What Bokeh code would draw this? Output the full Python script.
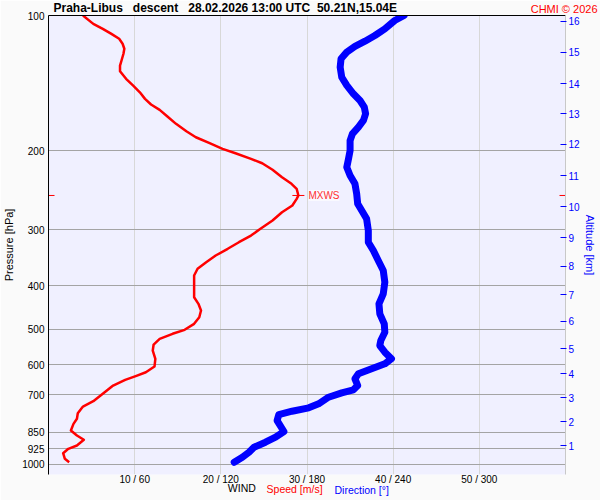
from bokeh.plotting import figure
from bokeh.models import Range1d, LogAxis, LinearAxis, FixedTicker, Label, Title
from bokeh.embed import file_html
from bokeh.resources import INLINE

NB = "\u00a0"
TITLE = f"Praha-Libus{NB}{NB} descent{NB}{NB} 28.02.2026 13:00 UTC{NB} 50.21N,15.04E"
CREDIT = "CHMI \u00a9 2026"
XLABELS = ["WIND", "Speed [m/s]", "Direction [\u00b0]"]

# wind speed profile: pressure [hPa] / speed [m/s]
speed_p = [100, 104.4, 107.1, 109.9, 112.7, 115.6, 118.6, 121.7, 125.5, 129.3, 133.1, 138.4,
           143.2, 148.3, 153.4, 157.9, 162.3, 168.0, 174.4, 181.1, 186.8, 192.6, 198.3, 202.8,
           208.7, 213.5, 220.8, 229.4, 237.3, 243.4, 251.9, 256.3, 265.2, 274.5, 286.5, 298.9,
           309.4, 320.2, 331.2, 342.8, 354.8, 367.0, 379.9, 403.4, 424.7, 439.3, 454.7, 470.6,
           486.8, 502.0, 512.4, 525.8, 541.4, 558.3, 582.6, 606.1, 624.1, 635.7, 648.9, 668.2,
           697.3, 724.3, 744.2, 770.3, 792.7, 813.4, 841.8, 863.7, 882.9, 909.2, 924.7, 945.8,
           973.4, 990.5]
speed_ms = [4.0, 5.2, 6.3, 7.3, 8.2, 8.6, 8.8, 8.7, 8.5, 8.3, 8.3, 9.0,
            9.8, 10.6, 11.2, 11.9, 12.9, 13.8, 14.8, 16.0, 17.1, 18.7, 20.2, 21.7,
            23.5, 24.8, 26.0, 27.1, 28.2, 28.8, 29.0, 28.8, 28.3, 27.1, 26.0, 24.6,
            23.5, 22.1, 20.8, 19.4, 18.3, 17.3, 16.9, 16.9, 16.9, 17.4, 17.7, 17.5,
            16.9, 15.8, 14.4, 12.9, 12.2, 12.1, 12.4, 12.3, 11.3, 10.2, 8.9, 7.5,
            6.3, 5.2, 4.0, 3.4, 3.3, 2.9, 2.6, 3.3, 4.1, 3.3, 2.3, 1.7,
            1.9, 2.4]

# wind direction profile: pressure [hPa] / direction [deg]
dir_p = [100, 102.6, 107.1, 110.8, 114.1, 117.2, 120.7, 124.9, 130.4, 137.3, 143.2, 149.5,
         154.7, 160.1, 165.6, 171.4, 177.4, 183.6, 190.0, 200.0, 208.7, 217.9, 227.4, 237.3,
         249.8, 262.9, 272.1, 283.9, 301.5, 320.2, 334.1, 351.7, 370.3, 393.2, 417.3, 439.3,
         462.4, 486.8, 508.3, 530.4, 544.2, 563.2, 582.6, 597.8, 613.3, 629.2, 645.6, 668.2,
         683.1, 693.7, 709.5, 734.0, 749.3, 762.4, 775.5, 799.8, 846.2, 871.3, 894.0, 917.2,
         941.0, 965.5, 990.5]
dir_deg = [247.6, 241.1, 234.2, 227.3, 220.4, 213.4, 207.7, 203.7, 203.1, 204.2, 207.7, 212.3,
           216.9, 219.9, 220.8, 219.3, 215.8, 211.6, 210.0, 210.0, 208.9, 207.7, 210.0, 213.4,
           214.6, 215.3, 218.1, 221.5, 222.7, 222.7, 226.2, 229.6, 233.1, 234.2, 233.1, 230.1,
           230.7, 233.8, 234.2, 231.4, 230.7, 234.2, 238.8, 234.2, 225.0, 215.8, 213.4, 215.3,
           212.3, 204.2, 195.0, 188.1, 181.2, 169.6, 160.4, 159.2, 163.9, 158.1, 151.1, 143.1,
           139.6, 135.0, 129.3]

pressure_ticks = [100, 200, 300, 400, 500, 600, 700, 850, 925, 1000]
speed_ticks = [10, 20, 30, 40, 50]
dir_ticks = [60, 120, 180, 240, 300]
alt_km = [1, 2, 3, 4, 5, 6, 7, 8, 9, 10, 11, 12, 13, 14, 15, 16]
alt_p = [909.2, 803.8, 710.6, 628.3, 552.6, 481.0, 418.8, 362.7, 312.6, 266.6,
         227.4, 193.9, 165.4, 141.8, 120.9, 103.1]

FONT = "Liberation Sans"
RED = "#ff0000"
BLUE = "#0000ff"

p = figure(width=600, height=500, output_backend="svg", toolbar_location=None,
           x_range=Range1d(0, 60), y_range=Range1d(1055, 100), y_axis_type="log",
           min_border_left=45, min_border_right=35, min_border_top=15, min_border_bottom=26,
           background_fill_color="#f0f0ff", border_fill_color="#fafafa",
           outline_line_color=None)
p.extra_x_ranges = {"dir": Range1d(0, 360)}


def no_ticks(ax):
    ax.major_tick_in = 0
    ax.major_tick_out = 0
    ax.minor_tick_in = 0
    ax.minor_tick_out = 0


# left pressure axis
ya = p.yaxis[0]
ya.ticker = FixedTicker(ticks=pressure_ticks)
ya.major_label_overrides = {t: str(t) for t in pressure_ticks}
no_ticks(ya)
ya.axis_line_color = "black"
ya.major_label_text_font = FONT
ya.major_label_text_font_size = "10px"
ya.major_label_text_color = "black"
ya.major_label_standoff = 4
ya.axis_label = "Pressure [hPa]"
ya.axis_label_text_font = FONT
ya.axis_label_text_font_size = "11px"
ya.axis_label_text_font_style = "normal"
ya.axis_label_text_color = "black"
ya.axis_label_standoff = 4

# bottom speed/direction axis
xa = p.xaxis[0]
xa.ticker = FixedTicker(ticks=speed_ticks)
xa.major_label_overrides = {s: f"{s} / {d}" for s, d in zip(speed_ticks, dir_ticks)}
no_ticks(xa)
xa.axis_line_color = None
xa.major_label_text_font = FONT
xa.major_label_text_font_size = "10px"
xa.major_label_text_color = "black"
xa.major_label_standoff = -1

p.xgrid.ticker = FixedTicker(ticks=speed_ticks)
p.xgrid.grid_line_color = "#d8d8d8"
p.ygrid.ticker = FixedTicker(ticks=pressure_ticks)
p.ygrid.grid_line_color = "#a4a4a4"

# right altitude axis
ra = LogAxis(ticker=FixedTicker(ticks=alt_p),
             major_label_overrides={pp: str(k) for pp, k in zip(alt_p, alt_km)},
             axis_label="Altitude [km]")
ra.axis_line_color = "#c8c8c8"
ra.major_tick_line_color = BLUE
ra.major_tick_in = 5
ra.major_tick_out = 1
ra.minor_tick_in = 0
ra.minor_tick_out = 0
ra.major_label_text_font = FONT
ra.major_label_text_font_size = "10px"
ra.major_label_text_color = BLUE
ra.major_label_standoff = 2
ra.axis_label_text_font = FONT
ra.axis_label_text_font_size = "11px"
ra.axis_label_text_font_style = "normal"
ra.axis_label_text_color = BLUE
ra.axis_label_standoff = 1
p.add_layout(ra, "right")

# top border: a bare axis line along the top of the frame
top = LinearAxis(ticker=FixedTicker(ticks=[]), axis_line_color="black")
no_ticks(top)
p.add_layout(top, "above")

# header texts
p.add_layout(Title(text=TITLE, align="left", offset=5, vertical_align="top", standoff=-3,
                   text_font=FONT, text_font_size="12px", text_font_style="bold",
                   text_color="black"), "above")
p.add_layout(Title(text=CREDIT, align="right", offset=-32, vertical_align="bottom",
                   standoff=-24, text_font=FONT, text_font_size="11px",
                   text_font_style="normal", text_color=RED), "above")


# footer texts carried by label-only axes (outside the plot frame)
def text_axis(x, txt, color, size, style, standoff):
    ax = LinearAxis(ticker=FixedTicker(ticks=[x]), major_label_overrides={x: txt})
    no_ticks(ax)
    ax.axis_line_color = None
    ax.major_label_text_font = FONT
    ax.major_label_text_font_size = size
    ax.major_label_text_font_style = style
    ax.major_label_text_color = color
    ax.major_label_standoff = standoff
    return ax


p.add_layout(text_axis(22.44, XLABELS[0], "black", "10.5px", "normal", -6), "below")
p.add_layout(text_axis(28.56, XLABELS[1], RED, "10.5px", "normal", -14), "below")
p.add_layout(text_axis(36.35, XLABELS[2], BLUE, "10.5px", "normal", -14), "below")

# profiles
p.line(dir_deg, dir_p, x_range_name="dir", line_color=BLUE, line_width=7,
       line_cap="round", line_join="round")
p.line(speed_ms, speed_p, line_color=RED, line_width=2.5, line_join="round")

# maximum wind marker
i_max = speed_ms.index(max(speed_ms))
mx_s, mx_p = speed_ms[i_max], speed_p[i_max]
p.scatter([p.x_range.start, mx_s, p.x_range.end], [mx_p] * 3, marker="dash", size=12,
          line_color=RED, line_width=1)
p.add_layout(Label(x=mx_s, y=mx_p, x_offset=10, text="MXWS", text_color="#ff3030",
                   text_font=FONT, text_font_size="10px", text_baseline="middle",
                   background_fill_color="#fafaff", background_fill_alpha=0.9))

open("out.html", "w").write(file_html(p, INLINE))
